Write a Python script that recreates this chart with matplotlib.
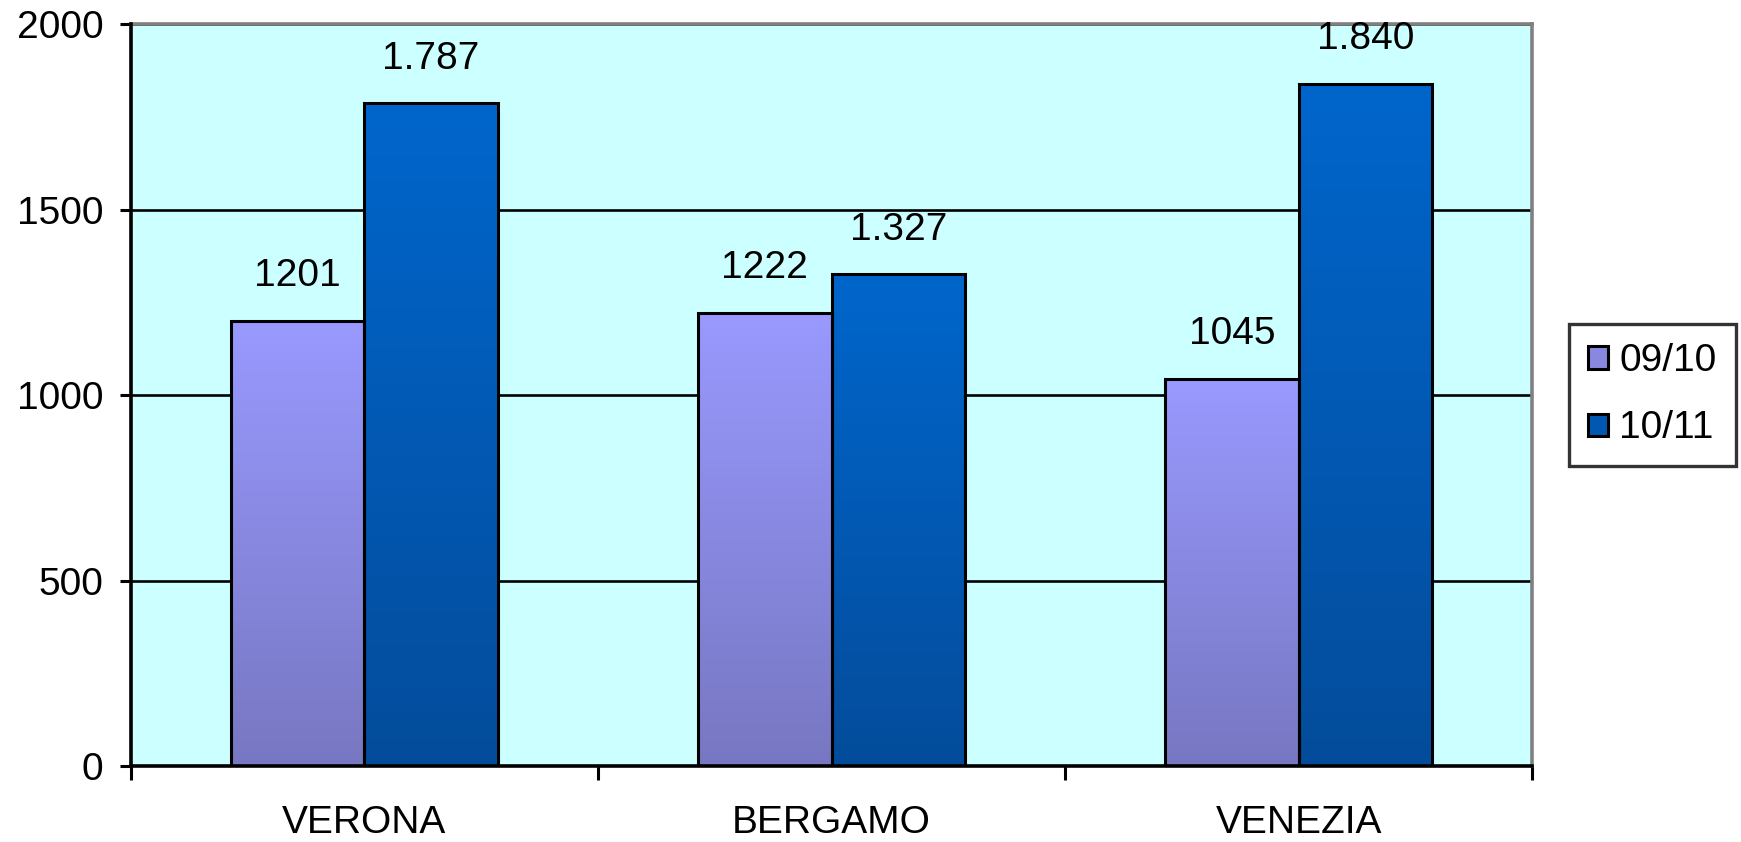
import numpy as np
import matplotlib
matplotlib.use("Agg")
import matplotlib.pyplot as plt
from matplotlib.colors import LinearSegmentedColormap
from matplotlib.patches import Patch

# --- Data ---
cities = ["VERONA", "BERGAMO", "VENEZIA"]
series_names = ["09/10", "10/11"]
vals_0910 = [1201, 1222, 1045]
vals_1011 = [1787, 1327, 1840]
yticks = [0, 500, 1000, 1500, 2000]

plt.rcParams['font.family'] = ['Liberation Sans', 'DejaVu Sans']

FS = 28


def it_fmt(v, sep):
    """Format an integer, optionally with an Italian thousands separator."""
    s = f"{v:,}"
    return s.replace(",", ".") if sep else s.replace(",", "")


# (top colour, bottom colour) for each series
grads = [("#9999FF", "#7777C2"), ("#0066CC", "#044C9B")]
mids = ["#8888E0", "#0058B2"]

fig = plt.figure(figsize=(17.41, 8.42), dpi=100)
ax = fig.add_axes([0.0752, 0.0903, 0.8048, 0.8807])
ax.set_facecolor("#CCFFFF")

x = np.arange(len(cities))
w = 1 / 3.5  # Excel gap width 150%

for k, (vals, sep) in enumerate([(vals_0910, False), (vals_1011, True)]):
    cmap = LinearSegmentedColormap.from_list(f"g{k}", [grads[k][1], grads[k][0]])
    grad = np.linspace(0, 1, 256).reshape(-1, 1)
    offs = -w / 2 if k == 0 else w / 2
    for xi, v in zip(x, vals):
        x0 = xi + offs - w / 2
        ax.imshow(grad, cmap=cmap, origin="lower", aspect="auto",
                  extent=(x0, x0 + w, 0, v), zorder=2)
    ax.bar(x + offs, vals, width=w, facecolor="none", edgecolor="black",
           linewidth=2.2, zorder=3)
    for xi, v in zip(x, vals):
        ax.annotate(it_fmt(v, sep), (xi + offs, v), xytext=(0, 19),
                    textcoords="offset points", ha="center", va="bottom",
                    fontsize=FS)

ax.set_xlim(-0.5, len(cities) - 0.5)
ax.set_ylim(0, 2000)
ax.set_yticks(yticks)
ax.tick_params(axis="y", labelsize=FS, length=8, width=2.2, pad=12)
ax.set_xticks(np.arange(len(cities) + 1) - 0.5)
ax.set_xticklabels([])
ax.set_xticks(x, minor=True)
ax.set_xticklabels(cities, minor=True)
ax.tick_params(axis="x", which="major", length=10, width=2.2)
ax.tick_params(axis="x", which="minor", length=0, labelsize=FS, pad=28)

ax.grid(axis="y", color="black", linewidth=1.9, zorder=1)
ax.set_axisbelow(True)
for side in ["left", "bottom"]:
    ax.spines[side].set_linewidth(2.6)
    ax.spines[side].set_color("black")
    ax.spines[side].set_zorder(4)
for side in ["top", "right"]:
    ax.spines[side].set_linewidth(2.6)
    ax.spines[side].set_color("#808080")

handles = [Patch(facecolor=mids[i], edgecolor="black", linewidth=2.2)
           for i in range(2)]
leg = fig.legend(handles, series_names, loc="center left",
                 bbox_to_anchor=(0.901, 0.531), fontsize=FS, frameon=True,
                 fancybox=False, handlelength=0.5, handleheight=0.5,
                 handletextpad=0.3, labelspacing=0.8, borderpad=0.5,
                 borderaxespad=0)
leg.get_frame().set_edgecolor("black")
leg.get_frame().set_linewidth(2.4)

fig.savefig("out.png", dpi=100, facecolor="white")
